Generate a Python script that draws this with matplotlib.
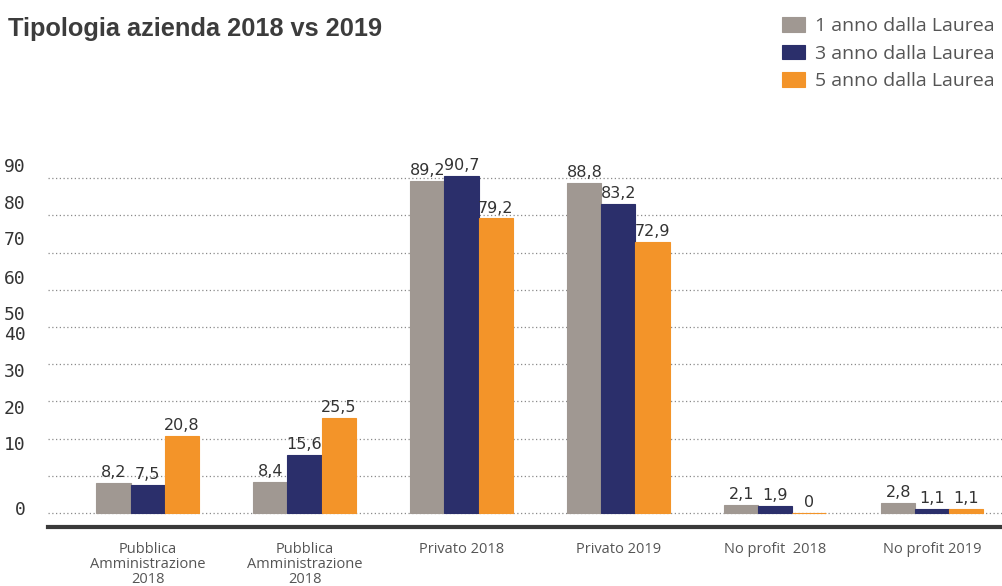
import matplotlib.pyplot as plt
import numpy as np

# Categories and series
categories = ['Pubblica\nAmministrazione\n2018', 'Pubblica\nAmministrazione\n2018',
              'Privato 2018', 'Privato 2019', 'No profit  2018', 'No profit 2019']
anno_1 = [8.2, 8.4, 89.2, 88.8, 2.1, 2.8]
anno_3 = [7.5, 15.6, 90.7, 83.2, 1.9, 1.1]
anno_5 = [20.8, 25.5, 79.2, 72.9, 0.0, 1.1]
series_names = ['1 anno dalla Laurea', '3 anno dalla Laurea', '5 anno dalla Laurea']

# y tick labels (drawn slightly off the grid, as in the original layout)
ytick_labels = ['0', '10', '20', '30', '40', '50', '60', '70', '80', '90']
ytick_pos = [1.3, 18.8, 28.5, 38.4, 48.4, 53.8, 63.4, 73.9, 83.6, 93.5]

colors = ['#a09892', '#2b2f6b', '#f39429']
group_x = np.arange(len(categories))
width = 0.217


def fmt(v):
    if v == 0:
        return '0'
    return f'{v:.1f}'.replace('.', ',')


fig = plt.figure(figsize=(10.03, 5.86), dpi=100)
ax = fig.add_axes([0.0479, 0.1007, 0.9521, 0.6433])

# dotted grid every 10
for g in range(0, 100, 10):
    ax.axhline(g, color='#8a8a8a', lw=0.9, ls=(0, (1, 2)), zorder=0)

bars = []
for i, (vals, c) in enumerate(zip([anno_1, anno_3, anno_5], colors)):
    xs = group_x + (i - 1) * width
    b = ax.bar(xs, vals, width, color=c, edgecolor=c, linewidth=0.8,
               label=series_names[i], zorder=2)
    bars.append(b)
    for x, v in zip(xs, vals):
        ax.annotate(fmt(v), (x, v), xytext=(0, 2), textcoords='offset points',
                    ha='center', va='bottom', fontsize=11.5,
                    family=['Liberation Sans Narrow', 'DejaVu Sans'], color='#333333')

ax.set_xlim(-0.634, 5.45)
ax.set_ylim(-3.76, 97.6)

ax.set_xticks(group_x)
ax.set_xticklabels(categories, fontsize=10.5, color='#555555', family='Open Sans',
                   linespacing=1.0)
ax.tick_params(axis='x', length=0, pad=11)

ax.set_yticks(ytick_pos)
ax.set_yticklabels(ytick_labels, fontsize=13, family='DejaVu Sans Mono', color='#333333')
ax.tick_params(axis='y', length=0, pad=16)

for s in ['top', 'right', 'left']:
    ax.spines[s].set_visible(False)
ax.spines['bottom'].set_color('#3a3a3a')
ax.spines['bottom'].set_linewidth(3)

fig.text(0.008, 0.95, 'Tipologia azienda 2018 vs 2019', fontsize=18.3,
         fontweight='bold', color='#3c3c3c', family='Liberation Sans', va='center')

fig.legend(handles=bars, loc='upper left', bbox_to_anchor=(0.7797, 0.9705),
           frameon=False, prop={'family': 'Open Sans', 'size': 14},
           labelcolor='#555555', handlelength=1.19, handleheight=0.77,
           labelspacing=0.49, handletextpad=0.52, borderpad=0, borderaxespad=0)

fig.savefig('out.png', dpi=100)
